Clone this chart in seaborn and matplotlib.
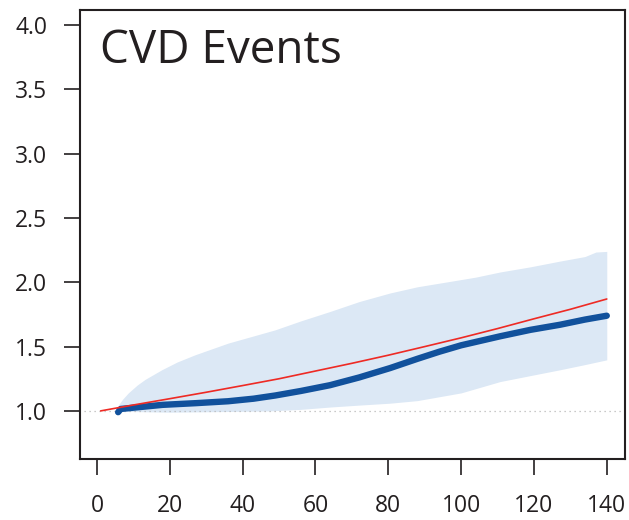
import numpy as np
import pandas as pd
import matplotlib
matplotlib.use("Agg")
import matplotlib.pyplot as plt
import seaborn as sns

# Smoothed hazard ratio for CVD events, with confidence band and reference curve
blue_x = [5.8, 6.5, 10, 18, 27, 36, 43, 49, 56, 64, 72, 80.5, 88, 94, 100, 110.7, 119, 127.2, 134, 140]
blue_y = [0.99, 1.015, 1.025, 1.047, 1.06, 1.075, 1.095, 1.12, 1.155, 1.20, 1.26, 1.333, 1.405, 1.46, 1.51, 1.58, 1.63, 1.67, 1.71, 1.74]

upper_x = [5.5, 6, 7, 8.6, 11, 13.2, 17.8, 22, 26.9, 36, 48.9, 56, 64, 72, 80.5, 88, 97,
           104, 110.7, 119, 127.2, 134, 137, 140]
upper_y = [1.0, 1.05, 1.09, 1.14, 1.20, 1.245, 1.32, 1.38, 1.436, 1.527, 1.63, 1.70, 1.773, 1.85, 1.917, 1.965, 2.007,
           2.04, 2.08, 2.12, 2.165, 2.20, 2.235, 2.24]

lower_x = [5.5, 10, 20, 35, 47.5, 56, 64, 72, 80.5, 88, 94, 100, 110.7, 120, 127.2, 134, 140]
lower_y = [1.0, 0.995, 0.99, 0.995, 1.0, 1.012, 1.03, 1.045, 1.06, 1.08, 1.11, 1.14, 1.228, 1.28, 1.32, 1.36, 1.397]

red_x = [1, 10, 20, 30, 40, 50, 60, 70, 80, 90, 100, 110, 120, 130, 140]
red_y = [1.0, 1.046, 1.095, 1.145, 1.197, 1.25, 1.31, 1.37, 1.433, 1.50, 1.568, 1.64, 1.716, 1.79, 1.87]

x_ticks = [0, 20, 40, 60, 80, 100, 120, 140]
y_ticks = [1.0, 1.5, 2.0, 2.5, 3.0, 3.5, 4.0]
title_text = "CVD Events"

sns.set_theme(style="white")
plt.rcParams["font.family"] = ["Open Sans", "DejaVu Sans"]

fig = plt.figure(figsize=(6.29, 5.20), dpi=100)
ax = fig.add_axes([0.1272, 0.1173, 0.8664, 0.8635])

# confidence band on a common grid
grid = np.union1d(upper_x, lower_x)
up = np.interp(grid, upper_x, upper_y)
lo = np.interp(grid, lower_x, lower_y)
ax.fill_between(grid, lo, up, color="#dce8f5", linewidth=0, zorder=1)

# reference level
ax.plot([-3.5, 144], [1.0, 1.0], color="#b8b8b8", linestyle=(0, (1, 3)), linewidth=0.9, zorder=2)

blue = pd.DataFrame({"x": blue_x, "y": blue_y})
red = pd.DataFrame({"x": red_x, "y": red_y})
sns.lineplot(data=blue, x="x", y="y", ax=ax, color="#11519c", linewidth=4.6,
             solid_capstyle="round", solid_joinstyle="round", zorder=3, sort=False)
sns.lineplot(data=red, x="x", y="y", ax=ax, color="#ee2a24", linewidth=1.2, zorder=4, sort=False)

ax.set_xlim(-4.67, 145.0)
ax.set_ylim(0.626, 4.117)
ax.set_xticks(x_ticks)
ax.set_xticklabels([str(v) for v in x_ticks])
ax.set_yticks(y_ticks)
ax.set_yticklabels([f"{v:.1f}" for v in y_ticks])
ax.set_xlabel("")
ax.set_ylabel("")

for s in ax.spines.values():
    s.set_visible(True)
    s.set_color("#231f20")
    s.set_linewidth(1.5)

ax.tick_params(axis="both", direction="out", length=11.5, width=1.2, color="#231f20",
               labelsize=16.5, labelcolor="#231f20", bottom=True, left=True)
ax.tick_params(axis="y", pad=12)
ax.tick_params(axis="x", pad=14)

ax.text(0.037, 0.882, title_text, transform=ax.transAxes, fontsize=33,
        color="#231f20", ha="left", va="baseline")

fig.savefig("out.png", dpi=100)
